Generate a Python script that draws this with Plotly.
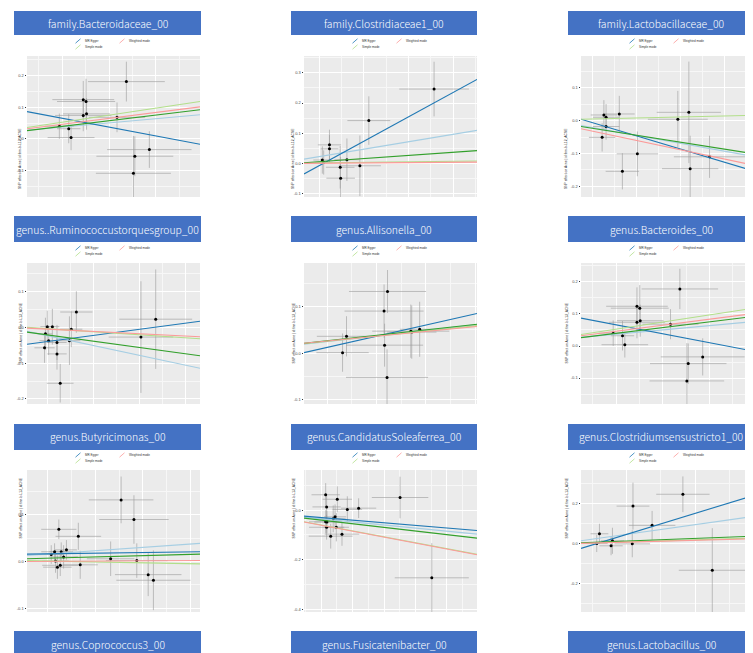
import plotly.graph_objects as go

W, H = 753, 653

# ---------------- data ----------------
titles_row0 = ["family.Bacteroidaceae_00", "family.Clostridiaceae1_00", "family.Lactobacillaceae_00"]
titles_row1 = ["genus..Ruminococcustorquesgroup_00", "genus.Allisonella_00", "genus.Bacteroides_00"]
titles_row2 = ["genus.Butyricimonas_00", "genus.CandidatusSoleaferrea_00", "genus.Clostridiumsensustricto1_00"]
titles_row3 = ["genus.Coprococcus3_00", "genus.Fusicatenibacter_00", "genus.Lactobacillus_00"]

methods = ["Inverse variance weighted", "MR Egger", "Simple mode", "Weighted median", "Weighted mode"]
legend_labels = ["MR Egger", "Weighted mode", "Simple mode"]
y_title = "SNP effect on Acne | id:finn-b-L12_ACNE"

# panel 1
p1_x = [0.212, 0.120, 0.126, 0.127, 0.120, 0.192, 0.069, 0.089, 0.094, 0.261, 0.230, 0.227]
p1_y = [0.181, 0.124, 0.118, 0.079, 0.074, 0.068, 0.040, 0.032, 0.004, -0.034, -0.055, -0.109]
p1_sx = [0.082, 0.066, 0.062, 0.05, 0.06, 0.06, 0.031, 0.025, 0.05, 0.09, 0.082, 0.08]
p1_sy = [0.063, 0.059, 0.072, 0.05, 0.05, 0.047, 0.04, 0.046, 0.04, 0.058, 0.063, 0.118]
p1_icpt = [0.027, 0.086, 0.036, 0.026, 0.032]
p1_slope = [0.133, -0.279, 0.222, 0.179, 0.187]
p1_yticks = [-0.1, 0.0, 0.1, 0.2]

# panel 2
p2_x = [0.291, 0.145, 0.057, 0.057, 0.041, 0.044, 0.096, 0.081, 0.082, 0.125]
p2_y = [0.246, 0.142, 0.062, 0.049, 0.012, 0.004, 0.013, -0.012, -0.048, -0.007]
p2_sx = [0.078, 0.048, 0.026, 0.02, 0.02, 0.02, 0.028, 0.032, 0.032, 0.047]
p2_sy = [0.09, 0.08, 0.05, 0.045, 0.045, 0.04, 0.07, 0.07, 0.07, 0.1]
p2_icpt = [0.015, -0.034, 0.002, 0.003, 0.001]
p2_slope = [0.245, 0.806, 0.018, 0.103, 0.010]
p2_yticks = [-0.1, 0.0, 0.1, 0.2, 0.3]

# panel 3
p3_x = [0.052, 0.057, 0.087, 0.057, 0.048, 0.128, 0.094, 0.220, 0.245, 0.248, 0.292]
p3_y = [0.017, 0.010, 0.020, -0.018, -0.051, -0.101, -0.154, 0.004, 0.025, -0.146, -0.110]
p3_sx = [0.03, 0.03, 0.035, 0.03, 0.03, 0.047, 0.038, 0.068, 0.073, 0.064, 0.081]
p3_sy = [0.045, 0.04, 0.055, 0.04, 0.043, 0.068, 0.055, 0.086, 0.154, 0.1, 0.064]
p3_icpt = [-0.015, 0.004, 0.004, -0.018, -0.025]
p3_slope = [-0.239, -0.400, 0.031, -0.211, -0.282]
p3_yticks = [-0.2, -0.1, 0.0, 0.1]

# panel 4
p4_x = [0.044, 0.055, 0.040, 0.047, 0.038, 0.065, 0.065, 0.072, 0.092, 0.096, 0.107, 0.247, 0.279]
p4_y = [0.002, 0.002, -0.018, -0.037, -0.057, -0.042, -0.074, -0.156, -0.037, -0.005, 0.043, -0.027, 0.023]
p4_sx = [0.015, 0.015, 0.015, 0.02, 0.022, 0.021, 0.021, 0.029, 0.024, 0.024, 0.035, 0.07, 0.079]
p4_sy = [0.045, 0.05, 0.045, 0.04, 0.042, 0.049, 0.044, 0.054, 0.068, 0.05, 0.058, 0.156, 0.139]
p4_icpt = [-0.011, -0.047, 0.0, -0.013, -0.002]
p4_slope = [-0.275, 0.171, -0.085, -0.176, -0.064]
p4_yticks = [-0.2, -0.1, 0.0, 0.1]

# panel 5
p5_x = [0.169, 0.162, 0.086, 0.078, 0.163, 0.168, 0.216, 0.218, 0.234]
p5_y = [0.132, 0.090, 0.036, 0.001, 0.017, -0.052, 0.047, 0.045, 0.051]
p5_sx = [0.078, 0.08, 0.06, 0.053, 0.078, 0.083, 0.078, 0.05, 0.04]
p5_sy = [0.046, 0.057, 0.043, 0.041, 0.046, 0.06, 0.057, 0.057, 0.059]
p5_icpt = [0.019, 0.001, 0.020, 0.021, 0.021]
p5_slope = [0.120, 0.240, 0.111, 0.117, 0.103]
p5_yticks = [-0.1, 0.0, 0.1]

# panel 6
p6_x = [0.212, 0.120, 0.126, 0.127, 0.120, 0.192, 0.069, 0.089, 0.094, 0.261, 0.230, 0.227]
p6_y = [0.178, 0.124, 0.118, 0.079, 0.074, 0.068, 0.040, 0.032, 0.004, -0.034, -0.055, -0.109]
p6_sx = [0.082, 0.066, 0.062, 0.05, 0.06, 0.06, 0.031, 0.025, 0.05, 0.09, 0.082, 0.08]
p6_sy = [0.063, 0.059, 0.072, 0.05, 0.05, 0.047, 0.04, 0.046, 0.04, 0.058, 0.063, 0.118]
p6_icpt = [0.027, 0.087, 0.036, 0.026, 0.032]
p6_slope = [0.133, -0.279, 0.222, 0.179, 0.187]
p6_yticks = [-0.1, 0.0, 0.1, 0.2]

# panel 7
p7_x = [0.198, 0.225, 0.067, 0.108, 0.083, 0.058, 0.072, 0.051, 0.077, 0.060, 0.070, 0.064, 0.112, 0.176, 0.231, 0.255, 0.266]
p7_y = [0.132, 0.090, 0.069, 0.054, 0.025, 0.021, 0.021, 0.015, 0.010, 0.001, -0.008, -0.012, -0.007, 0.006, 0.002, -0.028, -0.040]
p7_sx = [0.068, 0.073, 0.037, 0.048, 0.022, 0.028, 0.025, 0.025, 0.03, 0.028, 0.038, 0.03, 0.037, 0.05, 0.065, 0.07, 0.078]
p7_sy = [0.05, 0.052, 0.021, 0.029, 0.021, 0.018, 0.02, 0.02, 0.025, 0.025, 0.023, 0.025, 0.03, 0.037, 0.037, 0.046, 0.064]
p7_icpt = [0.013, 0.016, 0.002, 0.006, 0.0]
p7_slope = [0.071, 0.014, -0.019, 0.027, 0.006]
p7_yticks = [-0.1, 0.0, 0.1]

# panel 8
p8_x = [0.069, 0.072, 0.106, 0.138, 0.174, 0.306, 0.069, 0.073, 0.072, 0.085, 0.093, 0.099, 0.103, 0.121, 0.407]
p8_y = [0.062, 0.013, 0.044, 0.003, 0.008, 0.051, -0.047, -0.048, -0.069, -0.105, -0.035, -0.027, -0.069, -0.097, -0.273]
p8_sx = [0.045, 0.045, 0.047, 0.047, 0.056, 0.09, 0.053, 0.04, 0.056, 0.07, 0.04, 0.035, 0.04, 0.055, 0.118]
p8_sy = [0.047, 0.047, 0.052, 0.053, 0.04, 0.084, 0.047, 0.045, 0.05, 0.05, 0.054, 0.05, 0.057, 0.047, 0.14]
p8_icpt = [-0.028, -0.024, -0.047, -0.032, -0.048]
p8_slope = [-0.125, -0.105, -0.238, -0.147, -0.240]
p8_yticks = [-0.4, -0.2, 0.0]

# panel 9
p9_x = [0.149, 0.076, 0.104, 0.027, 0.023, 0.046, 0.044, 0.075, 0.192]
p9_y = [0.247, 0.188, 0.092, 0.050, 0.002, 0.015, -0.010, 0.0, -0.132]
p9_sx = [0.039, 0.024, 0.034, 0.013, 0.016, 0.017, 0.017, 0.026, 0.049]
p9_sy = [0.089, 0.117, 0.072, 0.05, 0.043, 0.065, 0.047, 0.067, 0.21]
p9_icpt = [0.015, -0.023, 0.003, 0.005, 0.002]
p9_slope = [0.482, 1.047, 0.100, 0.130, 0.091]
p9_yticks = [-0.2, 0.0, 0.2]

# ---------------- styling / layout ----------------
method_colors = ["#a6cee3", "#1f78b4", "#b2df8a", "#33a02c", "#fb9a99"]
legend_colors = ["#1f78b4", "#fb9a99", "#b2df8a"]
banner_color = "#4472C4"

# panel view settings: (x max, x tick0, x dtick, y min, y max, y dtick)
views = [
    (0.369, 0.075, 0.1, -0.184, 0.262, 0.1),
    (0.387, 0.0336, 0.1, -0.110, 0.355, 0.1),
    (0.393, 0.0265, 0.1, -0.232, 0.196, 0.1),
    (0.375, 0.0435, 0.1, -0.214, 0.180, 0.1),
    (0.350, 0.0466, 0.1, -0.109, 0.193, 0.1),
    (0.371, 0.0757, 0.1, -0.181, 0.259, 0.1),
    (0.364, 0.0437, 0.1, -0.108, 0.196, 0.1),
    (0.551, 0.055, 0.1, -0.411, 0.162, 0.2),
    (0.253, 0.0668, 0.1, -0.340, 0.368, 0.2),
]

panels = [
    (p1_x, p1_y, p1_sx, p1_sy, p1_icpt, p1_slope, p1_yticks),
    (p2_x, p2_y, p2_sx, p2_sy, p2_icpt, p2_slope, p2_yticks),
    (p3_x, p3_y, p3_sx, p3_sy, p3_icpt, p3_slope, p3_yticks),
    (p4_x, p4_y, p4_sx, p4_sy, p4_icpt, p4_slope, p4_yticks),
    (p5_x, p5_y, p5_sx, p5_sy, p5_icpt, p5_slope, p5_yticks),
    (p6_x, p6_y, p6_sx, p6_sy, p6_icpt, p6_slope, p6_yticks),
    (p7_x, p7_y, p7_sx, p7_sy, p7_icpt, p7_slope, p7_yticks),
    (p8_x, p8_y, p8_sx, p8_sy, p8_icpt, p8_slope, p8_yticks),
    (p9_x, p9_y, p9_sx, p9_sy, p9_icpt, p9_slope, p9_yticks),
]

col_x0 = [19, 296, 573]
col_x1 = [192, 469, 746]
row_y0 = [48, 255, 462]
row_y1 = [189, 396, 604]
banner_x = [(6, 193), (283, 469), (560, 746)]
banner_y = [(3, 27), (208, 234), (416, 442), (623, 649)]
banner_titles = [titles_row0, titles_row1, titles_row2, titles_row3]


def px(x):
    return x / W


def py(y):
    return 1 - y / H


fig = go.Figure()
layout_axes = {}
shapes = []
annotations = []

for i, (bx, by, sx, sy, icpt, slope, yt) in enumerate(panels):
    r, c = divmod(i, 3)
    n = i + 1
    xa = "x" if n == 1 else f"x{n}"
    ya = "y" if n == 1 else f"y{n}"
    xmax, xt0, xdt, ymin, ymax, ydt = views[i]

    fig.add_trace(go.Scatter(
        x=bx, y=by, mode="markers", xaxis=xa, yaxis=ya, showlegend=False,
        marker=dict(color="black", size=3),
        error_x=dict(type="data", array=sx, visible=True, width=0, thickness=0.6, color="#9a9a9a"),
        error_y=dict(type="data", array=sy, visible=True, width=0, thickness=0.6, color="#9a9a9a"),
        hoverinfo="skip",
    ))
    for m in range(len(methods)):
        fig.add_trace(go.Scatter(
            x=[0, xmax], y=[icpt[m], icpt[m] + slope[m] * xmax],
            mode="lines", xaxis=xa, yaxis=ya, showlegend=False, name=methods[m],
            line=dict(color=method_colors[m], width=1.1), hoverinfo="skip",
        ))

    xkey = "xaxis" if n == 1 else f"xaxis{n}"
    ykey = "yaxis" if n == 1 else f"yaxis{n}"
    layout_axes[xkey] = dict(
        domain=[px(col_x0[c]), px(col_x1[c])], anchor=ya, range=[0, xmax],
        showticklabels=False, ticks="", tickmode="linear", tick0=xt0, dtick=xdt,
        showgrid=True, gridcolor="white", gridwidth=1, zeroline=False, showline=False,
        minor=dict(tickmode="linear", tick0=xt0 - xdt / 2, dtick=xdt, showgrid=True,
                   gridcolor="#f7f7f7", gridwidth=0.5),
    )
    layout_axes[ykey] = dict(
        domain=[py(row_y1[r]), py(row_y0[r])], anchor=xa, range=[ymin, ymax],
        tickmode="array", tickvals=yt, ticktext=[f"{v:.1f}" for v in yt],
        tickfont=dict(size=4, color="#4d4d4d", family="Liberation Sans"),
        ticks="outside", ticklen=1.5, tickwidth=0.5, tickcolor="#333333",
        showgrid=True, gridcolor="white", gridwidth=1, zeroline=False, showline=False,
        minor=dict(tickmode="linear", tick0=ydt / 2, dtick=ydt, showgrid=True,
                   gridcolor="#f7f7f7", gridwidth=0.5),
    )

    # y-axis title
    annotations.append(dict(
        x=px(col_x0[c] - 11), y=py((row_y0[r] + row_y1[r]) / 2), xref="paper", yref="paper",
        text=y_title, textangle=-90, showarrow=False,
        font=dict(size=3.3, color="#222222", family="Liberation Sans"),
    ))

    # legend
    kx = [col_x0[c] + 51, col_x0[c] + 95, col_x0[c] + 51]
    ky = [row_y0[r] - 15, row_y0[r] - 15, row_y0[r] - 9]
    for k in range(3):
        shapes.append(dict(type="line", xref="paper", yref="paper",
                           x0=px(kx[k] - 2.5), y0=py(ky[k] + 2.2),
                           x1=px(kx[k] + 2.5), y1=py(ky[k] - 2.2),
                           line=dict(color=legend_colors[k], width=0.8)))
        annotations.append(dict(
            x=px(kx[k] + 4.5), y=py(ky[k]), xref="paper", yref="paper",
            text=legend_labels[k], showarrow=False, xanchor="left", yanchor="middle",
            font=dict(size=3, color="#333333", family="Liberation Sans"),
        ))

# banners
for r in range(4):
    for c in range(3):
        x0, x1 = banner_x[c]
        y0, y1 = banner_y[r]
        shapes.append(dict(type="rect", xref="paper", yref="paper",
                           x0=px(x0), x1=px(x1), y0=py(y1), y1=py(y0),
                           fillcolor=banner_color, line=dict(width=0), layer="below"))
        annotations.append(dict(
            x=px((x0 + x1) / 2), y=py((y0 + y1) / 2), xref="paper", yref="paper",
            text=banner_titles[r][c], showarrow=False, xanchor="center", yanchor="middle",
            font=dict(size=10.4, color="white", family="Noto Sans CJK SC", weight=300),
        ))

fig.update_layout(
    width=W, height=H, margin=dict(l=0, r=0, t=0, b=0),
    paper_bgcolor="white", plot_bgcolor="#EBEBEB",
    shapes=shapes, annotations=annotations, showlegend=False,
    **layout_axes,
)

fig.write_html("out.html")
